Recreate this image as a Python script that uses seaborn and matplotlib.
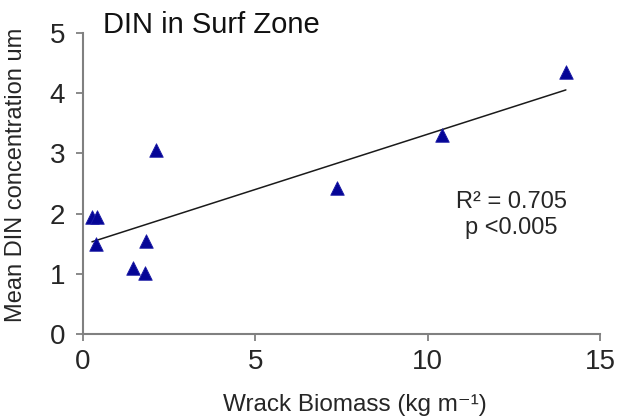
import matplotlib
matplotlib.use("Agg")
import matplotlib.pyplot as plt
import seaborn as sns
import pandas as pd

# Wrack biomass (kg m-1) and mean DIN concentration in the surf zone
wrack_biomass = [0.26, 0.41, 0.38, 1.83, 1.45, 1.80, 2.11, 7.36, 10.41, 14.01]
din_conc = [1.94, 1.94, 1.50, 1.55, 1.10, 1.02, 3.06, 2.42, 3.30, 4.35]
x_ticks = [0, 5, 10, 15]
y_ticks = [0, 1, 2, 3, 4, 5]

df = pd.DataFrame({"biomass": wrack_biomass, "din": din_conc})

sns.set_style("ticks")
plt.rcParams["font.family"] = ["Liberation Sans", "DejaVu Sans"]

fig = plt.figure(figsize=(6.26, 4.19), dpi=100)
ax = fig.add_axes([83 / 626, 1 - 334 / 419, (600 - 83) / 626, (334 - 33) / 419])

sns.regplot(
    data=df, x="biomass", y="din", ax=ax, ci=None, truncate=True,
    marker="^",
    scatter_kws={"s": 95, "color": "#050596", "edgecolor": "#1c1ca6",
                 "linewidths": 0.6, "alpha": 1, "zorder": 3},
    line_kws={"color": "#1a1a1a", "linewidth": 1.1, "zorder": 2},
)

ax.set_xlim(0, 15)
ax.set_ylim(0, 5)
ax.set_xticks(x_ticks)
ax.set_yticks(y_ticks)
ax.tick_params(axis="both", labelsize=20, colors="#808080", labelcolor="#262626",
               length=5, width=1.3, direction="out")
ax.tick_params(axis="x", pad=6)
ax.tick_params(axis="y", pad=8)
for side in ("top", "right"):
    ax.spines[side].set_visible(False)
for side in ("left", "bottom"):
    ax.spines[side].set_color("#808080")
    ax.spines[side].set_linewidth(1.5)

ax.set_xlabel("Wrack Biomass (kg m\u207b\u00b9)", fontsize=17.5, color="#262626")
ax.xaxis.set_label_coords((355 - 83) / 517, -(405 - 334) / 301)
ax.xaxis.label.set_va("center")

ax.set_ylabel("Mean DIN concentration um", fontsize=17, color="#262626")
ax.yaxis.set_label_coords(-(83 - 16) / 517, (334 - 175) / 301)
ax.yaxis.label.set_va("center")

fig.text(103 / 626, 1 - 33 / 419, "DIN in Surf Zone", fontsize=21,
         color="#111111", ha="left", va="baseline")

ax.text(0.828, 0.395, "R² = 0.705\np <0.005", transform=ax.transAxes,
        fontsize=17, color="#262626", ha="center", va="center", linespacing=1.2)

fig.savefig("out.png", dpi=100)
